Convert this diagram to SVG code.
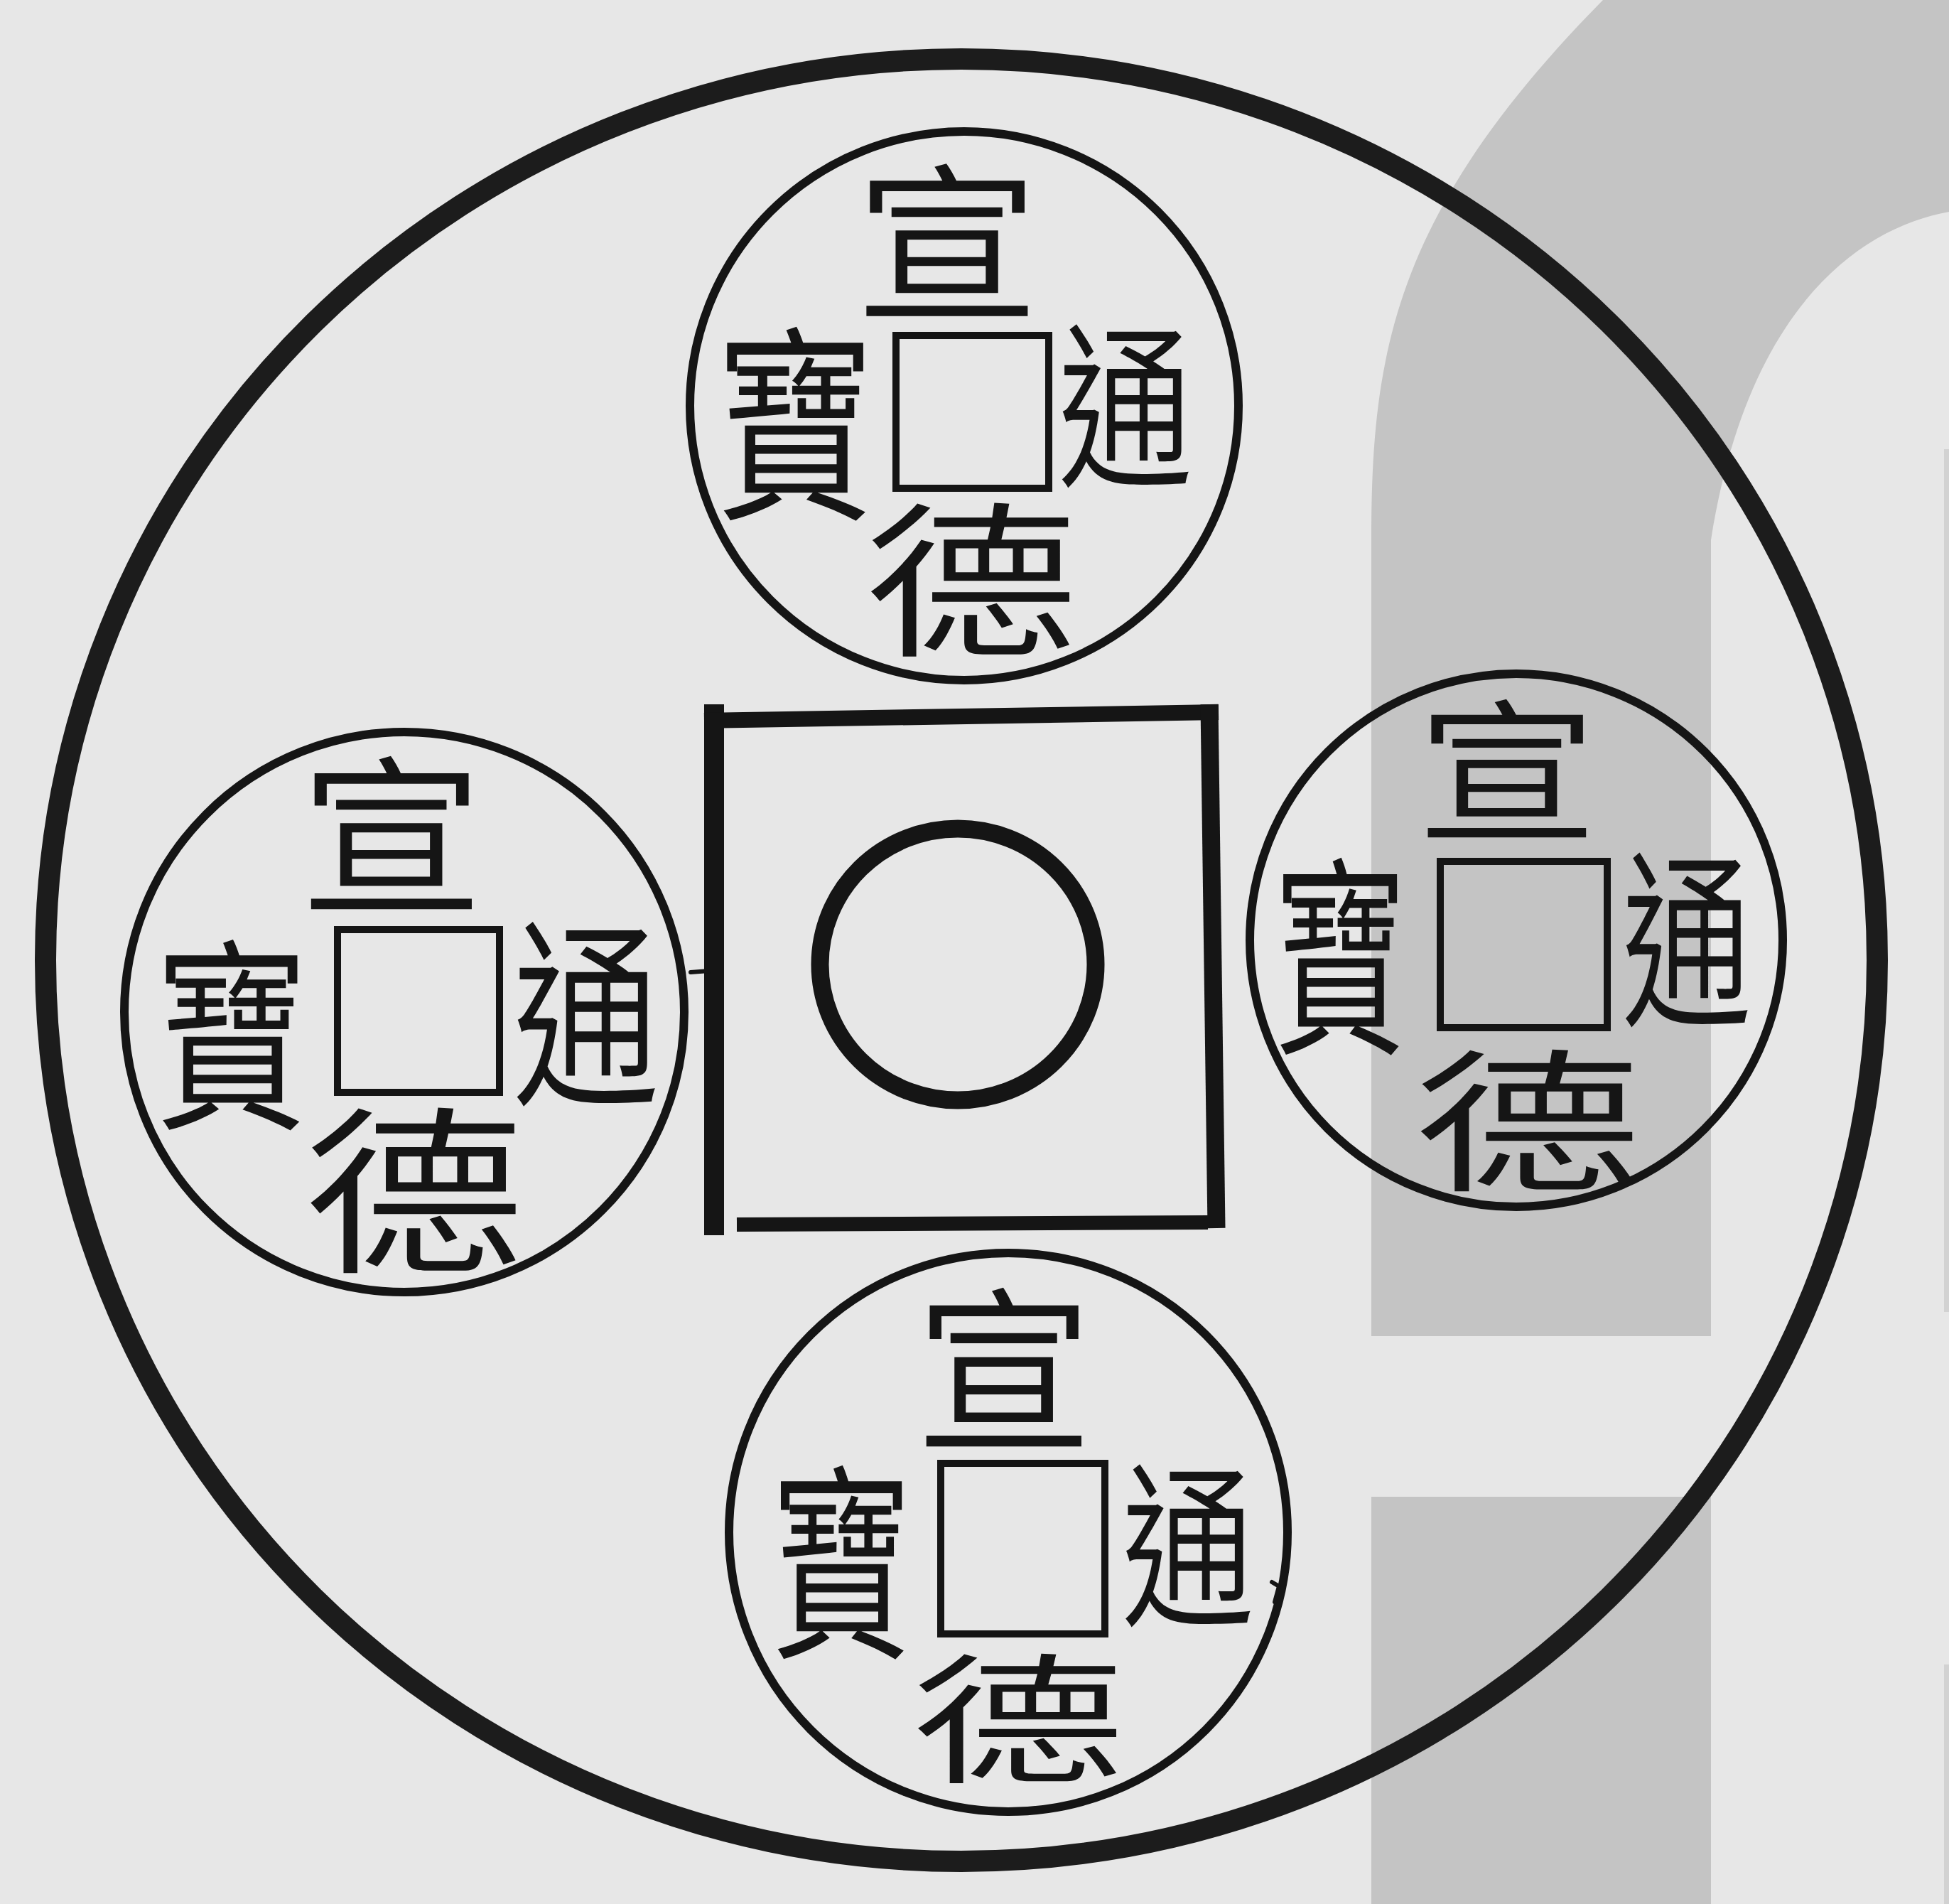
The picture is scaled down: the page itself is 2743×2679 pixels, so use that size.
<svg xmlns="http://www.w3.org/2000/svg" width="2743" height="2679" viewBox="0 0 2743 2679">
<style>
.bg{fill:#e7e7e7}
.band{fill:#c4c4c4}
.strip{fill:#d2d2d2}
.rim{fill:none;stroke:#1c1c1c;stroke-width:30}
.coin{fill:none;stroke:#151515;stroke-width:12}
.hole{fill:none;stroke:#151515;stroke-width:10}
.sq{fill:none;stroke:#151515;stroke-linecap:butt}
.mark{fill:none;stroke:#151515;stroke-width:6;stroke-linecap:round}
.c{font-family:"Noto Sans CJK TC","Noto Sans CJK JP","Noto Sans CJK SC",sans-serif;font-size:100px;font-weight:350;fill:#151515;text-anchor:middle;dominant-baseline:central}
</style>
<g id="background">
<rect class="bg" x="0" y="0" width="2743" height="2679"/>
<path class="band" d="M1930 1880 L1930 760 C1930 500 1960 300 2256 0 L2743 0 L2743 298 C2620 320 2460 430 2408 760 L2408 1880 Z"/>
<rect class="band" x="1930" y="2106" width="478" height="573"/>
<rect class="strip" x="2736" y="632" width="7" height="1214"/>
<rect class="strip" x="2736" y="2342" width="7" height="337"/>
</g>
<g id="outer-rim">
<ellipse class="rim" cx="1353" cy="1351" rx="1289" ry="1268"/>
</g>
<g id="center-square">
<path class="sq" stroke-width="28" d="M1005 991 L1005 1738"/>
<path class="sq" stroke-width="22" d="M991 1014 L1715 1002"/>
<path class="sq" stroke-width="25" d="M1702 991 L1712 1728"/>
<path class="sq" stroke-width="20" d="M1037 1723 L1700 1720"/>
<ellipse cx="1348" cy="1357" rx="194" ry="191" fill="none" stroke="#151515" stroke-width="25"/>
</g>
<g id="coin-top">
<circle class="coin" cx="1357" cy="571" r="386"/>
<rect class="hole" x="1261" y="472" width="215" height="215"/>
<text class="c" transform="translate(1333 328) scale(2.6 2.4)">宣</text>
<text class="c" transform="translate(1367 803) scale(3.0 2.35)">德</text>
<text class="c" transform="translate(1584 557) scale(1.9 2.5)">通</text>
<text class="c" transform="translate(1119 581) scale(2.25 2.95)">寶</text>
</g>
<g id="coin-left">
<circle class="coin" cx="569" cy="1424" r="394"/>
<rect class="hole" x="475" y="1308" width="228" height="229"/>
<text class="c" transform="translate(551 1162) scale(2.59 2.41)">宣</text>
<text class="c" transform="translate(583 1661) scale(3.1 2.53)">德</text>
<text class="c" transform="translate(825 1410) scale(2.07 2.83)">通</text>
<text class="c" transform="translate(326 1441) scale(2.17 2.9)">寶</text>
</g>
<g id="coin-bottom">
<circle class="coin" cx="1419" cy="2156" r="393"/>
<rect class="hole" x="1324" y="2059" width="231" height="240"/>
<text class="c" transform="translate(1413 1914) scale(2.5 2.49)">宣</text>
<text class="c" transform="translate(1433 2407) scale(3.0 1.98)">德</text>
<text class="c" transform="translate(1672 2160) scale(1.87 2.49)">通</text>
<text class="c" transform="translate(1184 2183) scale(2.0 2.95)">寶</text>
</g>
<g id="coin-right">
<circle class="coin" cx="2134" cy="1323" r="375"/>
<rect class="hole" x="2027" y="1212" width="235" height="234"/>
<text class="c" transform="translate(2121 1072) scale(2.55 2.17)">宣</text>
<text class="c" transform="translate(2150 1565) scale(3.2 2.17)">德</text>
<text class="c" transform="translate(2374 1307) scale(1.83 2.68)">通</text>
<text class="c" transform="translate(1886 1330) scale(1.88 3.0)">寶</text>
</g>
<g id="marks">
<path class="mark" d="M972 1368 L998 1366"/>
<path class="mark" d="M1790 2226 L1800 2232 L1794 2254"/>
</g>
</svg>
